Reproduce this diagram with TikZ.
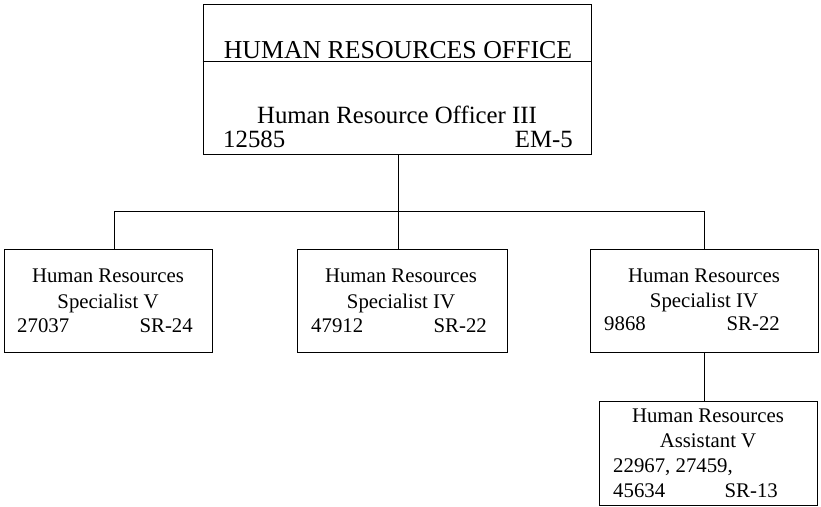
\documentclass[tikz,border=0pt]{standalone}
\usepackage{fontspec}
\setmainfont{Liberation Serif}
\begin{document}
\begin{tikzpicture}[x=1pt,y=-1pt,
  box/.style={draw,line width=1pt,inner sep=0pt},
  small/.style={font=\fontsize{20.8}{25}\selectfont,inner sep=0pt},
  large/.style={font=\fontsize{24.8}{29}\selectfont,inner sep=0pt},
  heading/.style={font=\fontsize{25.8}{30}\selectfont,inner sep=0pt},
  link/.style={line width=0.9pt}]
\useasboundingbox (0,0) rectangle (821,506);
\fill[white] (0,0) rectangle (821,506);

% office head
\node[box,minimum width=388pt,minimum height=150pt] (top) at (397,79) {};
\draw[line width=1pt] (top.west |- 0,61) -- (top.east |- 0,61);
\node[heading,anchor=base] (ttl) at (398,58) {HUMAN RESOURCES OFFICE};
\node[large,anchor=base] (t1) at (397,123) {Human Resource Officer III};
\node[large,anchor=base west] (t2) at (223,147) {12585};
\node[large,anchor=base east] (t3) at (573,147) {EM-5};

% specialists
\node[box,minimum width=208pt,minimum height=103pt] (s1) at (108,300.5) {};
\node[small,anchor=base] (s1a) at (108,282) {Human Resources};
\node[small,anchor=base] (s1b) at (108,308) {Specialist V};
\node[small,anchor=base west] (s1c) at (17,332) {27037};
\node[small,anchor=base east] (s1d) at (193,332) {SR-24};

\node[box,minimum width=210pt,minimum height=103pt] (s2) at (402,300.5) {};
\node[small,anchor=base] (s2a) at (401,282) {Human Resources};
\node[small,anchor=base] (s2b) at (401,308) {Specialist IV};
\node[small,anchor=base west] (s2c) at (311,332) {47912};
\node[small,anchor=base east] (s2d) at (487,332) {SR-22};

\node[box,minimum width=228pt,minimum height=103pt] (s3) at (704,300.5) {};
\node[small,anchor=base] (s3a) at (704,282) {Human Resources};
\node[small,anchor=base] (s3b) at (704,307) {Specialist IV};
\node[small,anchor=base west] (s3c) at (604,330) {9868};
\node[small,anchor=base east] (s3d) at (780,330) {SR-22};

% assistant
\node[box,minimum width=218pt,minimum height=104pt] (a1) at (708,453) {};
\node[small,anchor=base] (a1a) at (708,422) {Human Resources};
\node[small,anchor=base] (a1b) at (708,447) {Assistant V};
\node[small,anchor=base west] (a1c) at (613,472) {22967, 27459,};
\node[small,anchor=base west] (a1d) at (613,497) {45634};
\node[small,anchor=base east] (a1e) at (778,497) {SR-13};

% connectors
\coordinate (bL) at (114,211);
\coordinate (bR) at (704,211);
\draw[link] (top.south -| 398,0) -- (s2.north -| 398,0);
\draw[link] (s1.north -| bL) -- (bL) -- (bR) -- (s3.north -| bR);
\draw[link] (s3.south -| bR) -- (a1.north -| bR);
\end{tikzpicture}
\end{document}
